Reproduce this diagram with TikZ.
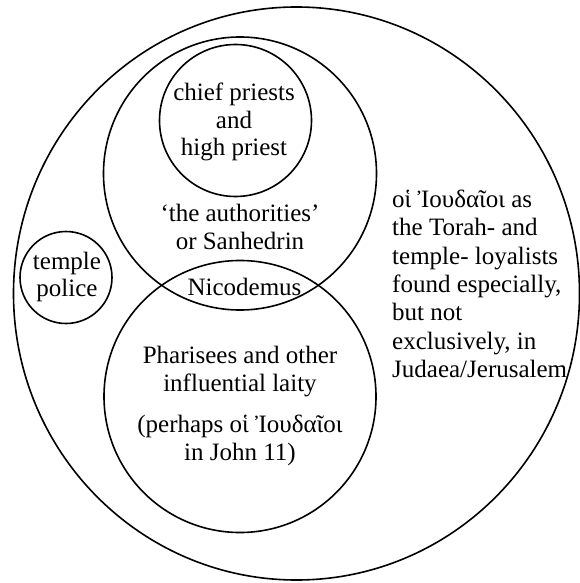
\documentclass[tikz,border=0pt]{standalone}
\usepackage{fontspec}
\setmainfont{Liberation Serif}
\usetikzlibrary{shapes.geometric}
\begin{document}
\begin{tikzpicture}[x=1bp,y=-1bp,
  ring/.style={draw, line width=1.6bp, inner sep=0pt},
  lbl/.style={align=center, font=\fontsize{25bp}{27.5bp}\selectfont, inner sep=0pt}]
\useasboundingbox (0,0) rectangle (580,583);
% circles
\node[ring, ellipse, minimum width=566bp, minimum height=573bp] (outer) at (296.5,293.5) {};
\node[ring, circle, minimum size=273bp] (auth) at (240,173.5) {};
\node[ring, circle, minimum size=152bp] (chief) at (235.5,120.5) {};
\node[ring, circle, minimum size=272bp] (phar) at (240,396.5) {};
\node[ring, circle, minimum size=92bp] (police) at (66,277.5) {};
% labels
\node[lbl] (tchief) at (234,122) {chief priests\\and\\high priest};
\node[lbl] (tauth) at (240,227) {‘the authorities’\\or Sanhedrin};
\node[lbl] (tnico) at (244.5,287) {Nicodemus};
\node[lbl] (tphar) at (240,406) {Pharisees and other\\influential laity\\[14bp](perhaps οἱ Ἰουδαῖοι\\in John 11)};
\node[lbl] (tpolice) at (67,277) {temple\\police};
\node[lbl, align=left, anchor=north west, font=\fontsize{25bp}{28.3bp}\selectfont] (tjews) at (392,190) {οἱ Ἰουδαῖοι as\\the Torah- and\\temple- loyalists\\found especially,\\but not\\exclusively, in\\Judaea/Jerusalem};
\end{tikzpicture}
\end{document}
